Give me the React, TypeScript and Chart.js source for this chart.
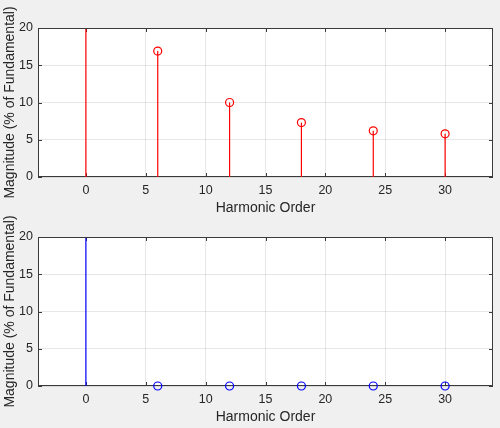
import React, { useEffect, useRef } from "react";
import { Chart, registerables } from "chart.js";

Chart.register(...registerables);

const harmonics = [0, 6, 12, 18, 24, 30];
const magnitudeBefore = [100, 16.9, 10.0, 7.3, 6.2, 5.8];
const magnitudeAfter = [100, 0, 0, 0, 0, 0];
const xLabel = "Harmonic Order";
const yLabel = "Magnitude (% of Fundamental)";
const xRange = [-4, 34];
const yRange = [0, 20];

const FONT = "'Liberation Sans', Arial, Helvetica, sans-serif";
const TEXT = "#262626";

const boxPlugin = {
  id: "matlabBox",
  beforeDraw(chart: any) {
    const { ctx, chartArea: a } = chart;
    ctx.save();
    ctx.fillStyle = "#ffffff";
    ctx.fillRect(a.left, a.top, a.right - a.left, a.bottom - a.top);
    ctx.restore();
  },
  beforeDatasetsDraw(chart: any) {
    const { ctx, chartArea: a, scales } = chart;
    ctx.save();
    ctx.strokeStyle = "#3a3a3a";
    ctx.lineWidth = 1;
    ctx.strokeRect(Math.round(a.left) + 0.5, Math.round(a.top) + 0.5, Math.round(a.right - a.left) - 1, Math.round(a.bottom - a.top) - 1);
    const tl = 4;
    ctx.beginPath();
    for (const t of scales.x.ticks) {
      const px = Math.round(scales.x.getPixelForValue(t.value)) + 0.5;
      ctx.moveTo(px, a.top);
      ctx.lineTo(px, a.top + tl);
      ctx.moveTo(px, a.bottom);
      ctx.lineTo(px, a.bottom - tl);
    }
    for (const t of scales.y.ticks) {
      const py = Math.round(scales.y.getPixelForValue(t.value)) + 0.5;
      ctx.moveTo(a.left, py);
      ctx.lineTo(a.left + tl, py);
      ctx.moveTo(a.right, py);
      ctx.lineTo(a.right - tl, py);
    }
    ctx.stroke();
    ctx.restore();
  },
};

function makeConfig(values: number[], color: string, padTop: number, xHeight: number, titlePadBottom: number) {
  const stems = harmonics.map((h, i) => ({
    type: "line",
    data: [
      { x: h, y: 0 },
      { x: h, y: values[i] },
    ],
    borderColor: color,
    borderWidth: 1.2,
    pointRadius: 0,
    fill: false,
    clip: { left: 0, right: 0, top: -1, bottom: 0 },
  }));
  const markers = {
    type: "scatter",
    data: harmonics.map((h, i) => ({ x: h, y: values[i] })),
    borderColor: color,
    backgroundColor: "rgba(0,0,0,0)",
    borderWidth: 1.2,
    pointRadius: 4,
    pointStyle: "circle",
    clip: { left: false, right: false, top: 0, bottom: false },
  };
  return {
    type: "scatter",
    data: { datasets: [...stems, markers] },
    options: {
      animation: false,
      responsive: false,
      devicePixelRatio: 1,
      layout: { padding: { top: padTop, right: 7, left: 0, bottom: 0 } },
      plugins: { legend: { display: false }, tooltip: { enabled: false } },
      scales: {
        x: {
          type: "linear",
          min: xRange[0],
          max: xRange[1],
          afterFit: (s: any) => {
            s.height = xHeight;
          },
          grid: { color: "rgba(38,38,38,0.11)", drawTicks: false },
          border: { display: false },
          ticks: { stepSize: 5, includeBounds: false, padding: 6, color: TEXT, font: { family: FONT, size: 12.5 } },
          title: { display: true, text: xLabel, color: TEXT, font: { family: FONT, size: 14, lineHeight: 1 }, padding: { top: 0, bottom: titlePadBottom } },
        },
        y: {
          type: "linear",
          min: yRange[0],
          max: yRange[1],
          afterFit: (s: any) => {
            s.width = 38;
          },
          grid: { color: "rgba(38,38,38,0.11)", drawTicks: false },
          border: { display: false },
          ticks: { stepSize: 5, padding: 5, color: TEXT, font: { family: FONT, size: 12.5 } },
          title: { display: true, text: yLabel, color: TEXT, font: { family: FONT, size: 14, lineHeight: 1 }, padding: { top: 3.5, bottom: 0 } },
        },
      },
    },
    plugins: [boxPlugin],
  };
}

function Panel({ values, color, top, height, padTop, xHeight, titlePadBottom }: any) {
  const ref = useRef<HTMLCanvasElement>(null);
  useEffect(() => {
    const chart = new Chart(ref.current as HTMLCanvasElement, makeConfig(values, color, padTop, xHeight, titlePadBottom) as any);
    return () => chart.destroy();
  }, []);
  return (
    <canvas
      ref={ref}
      width={500}
      height={height}
      style={{ position: "absolute", left: 0, top, width: 500, height }}
    />
  );
}

export default function App() {
  return (
    <div style={{ position: "fixed", left: 0, top: 0, width: 500, height: 428, background: "#f0f0f0", overflow: "hidden" }}>
      <Panel values={magnitudeBefore} color="#ff0000" top={0} height={220} padTop={28} xHeight={43} titlePadBottom={4.5} />
      <Panel values={magnitudeAfter} color="#0000ff" top={214} height={214} padTop={23} xHeight={42} titlePadBottom={3.5} />
    </div>
  );
}
